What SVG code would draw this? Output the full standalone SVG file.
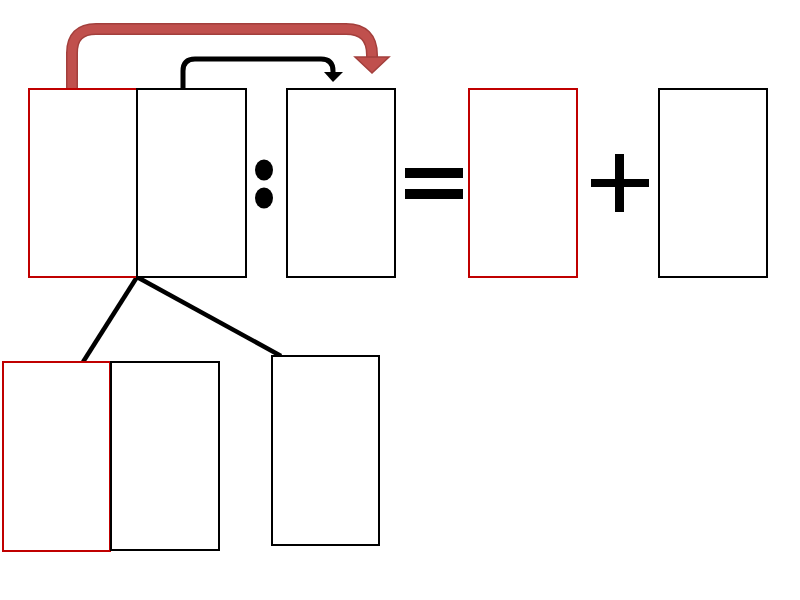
<svg xmlns="http://www.w3.org/2000/svg" width="800" height="600" viewBox="0 0 800 600">
<style>
.box{fill:#fff;stroke:#000;stroke-width:2}
.red{fill:#fff;stroke:#c00000;stroke-width:2}
.sym{fill:#000}
.line{stroke:#000;stroke-width:4.5;fill:none}
</style>
<rect width="800" height="600" fill="#fff"/>
<g id="connectors">
<path d="M72,89 V53 Q72,29 96,29 H346 Q372,29 372,55 V59" fill="none" stroke="#a33f3c" stroke-width="12"/>
<path d="M72,89 V53 Q72,29 96,29 H346 Q372,29 372,55 V59" fill="none" stroke="#c0504d" stroke-width="9"/>
<polygon points="355,57 389,57 372,73" fill="#c0504d" stroke="#a33f3c" stroke-width="1.5"/>
<path d="M183,89 V71 Q183,59 195,59 H321 Q333,59 333,71 V74" fill="none" stroke="#000" stroke-width="5"/>
<polygon points="324,72 343,72 333,82" fill="#000"/>
<line class="line" x1="137" y1="277" x2="83" y2="362"/>
<line class="line" x1="137" y1="277" x2="281" y2="356"/>
</g>
<g id="n1"><rect class="red" x="29" y="89" width="108" height="188"/></g>
<g id="n2"><rect class="box" x="137" y="89" width="109" height="188"/></g>
<g id="n3"><rect class="box" x="287" y="89" width="108" height="188"/></g>
<g id="n4"><rect class="red" x="469" y="89" width="108" height="188"/></g>
<g id="n5"><rect class="box" x="659" y="89" width="108" height="188"/></g>
<g id="n6"><rect class="red" x="3" y="362" width="107" height="189"/></g>
<g id="n7"><rect class="box" x="111" y="362" width="108" height="188"/></g>
<g id="n8"><rect class="box" x="272" y="356" width="107" height="189"/></g>
<g id="colon"><ellipse class="sym" cx="264" cy="170" rx="9" ry="10.5"/><ellipse class="sym" cx="264" cy="198" rx="9" ry="10.5"/></g>
<g id="equals"><rect class="sym" x="405" y="168" width="58" height="10"/><rect class="sym" x="405" y="189" width="58" height="10"/></g>
<g id="plus"><rect class="sym" x="591" y="179" width="58" height="8"/><rect class="sym" x="615" y="154" width="9" height="58"/></g>
</svg>
